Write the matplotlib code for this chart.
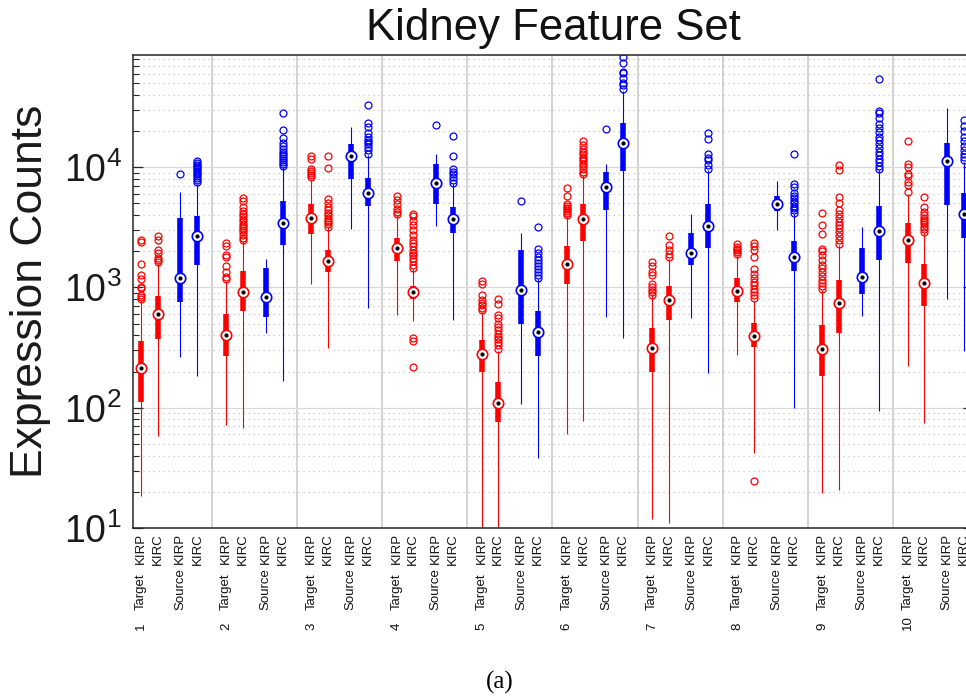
import matplotlib
matplotlib.use("Agg")
import matplotlib.pyplot as plt
import matplotlib.transforms as mtransforms
import numpy as np

plt.rcParams["font.family"] = ["Liberation Sans", "DejaVu Sans"]

GROUPS = ["1", "2", "3", "4", "5", "6", "7", "8", "9", "10"]
DOMAINS = ["Target", "", "Source", ""]
CANCERS = ["KIRP", "KIRC", "KIRP", "KIRC"]

# five-number summaries, four boxes per feature group:
# Target KIRP, Target KIRC, Source KIRP, Source KIRC
whis_lo = [
    18.5, 58, 262, 185,
    72, 68, 416, 168,
    1070, 312, 3090, 680,
    590, 524, 3270, 540,
    8, 8, 107, 38.5,
    60, 78, 566, 381,
    11.8, 10.9, 555, 193,
    276, 42, 2990, 99,
    19.7, 20.6, 584, 94,
    224, 74, 805, 299,
]
q1 = [
    111, 373, 755, 1525,
    268, 643, 573, 2240,
    2800, 1340, 7940, 4760,
    1650, 805, 4980, 2860,
    200, 76, 498, 271,
    1074, 2420, 4440, 9310,
    197, 538, 1545, 2130,
    764, 322, 4325, 1370,
    182, 416, 885, 1680,
    1600, 708, 4890, 2575,
]
medians = [
    213, 607, 1197, 2660,
    403, 920, 830, 3460,
    3780, 1656, 12420, 6150,
    2127, 914, 7450, 3690,
    280, 110, 957, 424,
    1565, 3710, 6850, 15950,
    312, 789, 1930, 3240,
    938, 396, 4920, 1790,
    308, 740, 1218, 2930,
    2465, 1086, 11220, 4110,
]
q3 = [
    362, 853, 3810, 3930,
    604, 1360, 1460, 5250,
    4920, 2060, 15550, 8150,
    2594, 1033, 10590, 4670,
    366, 165, 2033, 643,
    2210, 4920, 9040, 23100,
    461, 1019, 2836, 4980,
    1205, 508, 5730, 2430,
    492, 1159, 2142, 4800,
    3433, 1574, 15950, 6100,
]
whis_hi = [
    780, 1600, 6230, 7310,
    1140, 2450, 1720, 10000,
    7790, 3180, 21400, 12700,
    3980, 1430, 12760, 7200,
    622, 299, 2856, 1180,
    3900, 8580, 10730, 43000,
    858, 1734, 4110, 9440,
    1850, 779, 7690, 4050,
    944, 2239, 3184, 9440,
    6000, 2836, 31200, 11060,
]
fliers = [
    [800, 830, 860, 990, 1010, 1180, 1260, 1580, 2400, 2500],
    [1620, 1700, 1750, 1950, 2050, 2500, 2700],
    [8850],
    [7600, 7900, 8200, 8500, 8800, 9000, 9300, 9600, 9900, 10200, 10500, 10800, 11200],
    [1180, 1220, 1340, 1520, 1790, 1850, 2200, 2340],
    [2500, 2600, 2750, 2900, 3000, 3100, 3250, 3400, 3550, 3700, 3900, 4100, 4300, 4700, 5200, 5500],
    [],
    [10300, 10700, 11100, 11500, 12000, 12500, 13000, 13500, 14200, 15000, 16000, 17500, 20300, 28000],
    [8300, 8600, 8900, 9300, 9700, 11800, 12300],
    [3200, 3350, 3500, 3650, 3800, 4000, 4200, 4400, 4700, 5000, 5400, 9900, 12500],
    [],
    [13000, 13900, 14800, 15700, 16200, 16800, 17700, 19300, 21700, 23400, 32800],
    [4110, 4240, 4530, 4980, 5310, 5770],
    [220, 361, 381, 1450, 1550, 1650, 1750, 1850, 1950, 2050, 2200, 2350, 2500, 2750, 3000, 3300, 3600, 3900, 4100],
    [22500],
    [7450, 7790, 8300, 8750, 9140, 9750, 12350, 18100],
    [650, 680, 710, 740, 790, 870, 1070, 1130],
    [310, 330, 350, 370, 390, 410, 440, 470, 500, 560, 590, 730, 800],
    [5250],
    [1200, 1280, 1350, 1430, 1500, 1600, 1700, 1800, 1950, 2100, 3200],
    [4000, 4150, 4300, 4450, 4600, 4750, 4950, 5800, 6700],
    [8700, 9200, 9700, 10200, 10700, 11200, 11700, 12200, 12800, 13500, 14300, 15200, 16500],
    [20800],
    [44400, 48200, 49800, 54800, 60400, 62300, 74000, 83000, 92000],
    [870, 910, 960, 1010, 1060, 1260, 1340, 1520, 1620],
    [1790, 1910, 2030, 2240, 2680],
    [],
    [9750, 10400, 11430, 12040, 12830, 17000, 19300],
    [1900, 1960, 2030, 2100, 2170, 2300],
    [24.6, 810, 860, 920, 980, 1050, 1120, 1200, 1300, 1420, 1800, 2030, 2200, 2340],
    [],
    [4150, 4400, 4600, 4800, 5000, 5200, 5500, 5800, 6100, 6900, 7200, 13000],
    [980, 1030, 1090, 1160, 1250, 1350, 1450, 1550, 1700, 1850, 2000, 2100, 2800, 3300, 4200],
    [2300, 2500, 2700, 2900, 3100, 3300, 3500, 3750, 4100, 4400, 5000, 5600, 9400, 10500],
    [],
    [9700, 10300, 11000, 11800, 12600, 13500, 14500, 15500, 16800, 18000, 19500, 21000, 23000, 25500, 28000, 29500, 54000],
    [6230, 7080, 7550, 8410, 8860, 10060, 10730, 16560],
    [2900, 3050, 3200, 3350, 3500, 3650, 3800, 4000, 4250, 4700, 5700],
    [],
    [11500, 12200, 13000, 14000, 15000, 16500, 18000, 20000, 22000, 24500],
]

# box layout inside each group (factor gap between target and source)
offsets = np.array([0.0, 0.97, 2.3, 3.3])
group_step = 4.98
positions = np.concatenate([g * group_step + offsets for g in range(len(GROUPS))])
colors = ["#ff0000", "#ff0000", "#0000ff", "#0000ff"] * len(GROUPS)

fig = plt.figure(figsize=(9.66, 6.96), dpi=100)
ax = fig.add_axes([133 / 966, 1 - 528 / 696, 840 / 966, 473 / 696])
ax.set_yscale("log")
ax.set_ylim(10, 10 ** 4.933)
ax.set_xlim(-0.468, 48.65)

# grid: solid decades, dotted minors, group separators
ax.yaxis.grid(True, which="major", color="#d9d9d9", linewidth=0.9, zorder=0)
ax.yaxis.grid(True, which="minor", color="#c4c4c4", linewidth=0.9,
              linestyle=(0, (1, 3)), zorder=0)
for g in range(len(GROUPS) - 1):
    sep = (positions[4 * g + 3] + positions[4 * g + 4]) / 2
    ax.axvline(sep, color="#c8c8c8", linewidth=1.1, zorder=0)
ax.set_axisbelow(True)

# whiskers, boxes, outliers, medians
ax.vlines(positions, whis_lo, whis_hi, colors=colors, linewidth=0.8, zorder=2)
ax.vlines(positions, q1, q3, colors=colors, linewidth=4.0, capstyle="butt", zorder=3)
for x, ys, c in zip(positions, fliers, colors):
    if ys:
        ax.plot([x] * len(ys), ys, "o", mfc="none", mec=c, ms=5, mew=0.9, zorder=3)
for x, m, c in zip(positions, medians, colors):
    ax.plot(x, m, "o", mfc="white", mec=c, ms=7.5, mew=1.2, zorder=4)
    ax.plot(x, m, "o", color="black", ms=2, zorder=5)

# axes frame and ticks
for side in ["top", "left", "bottom", "right"]:
    ax.spines[side].set_color("#262626")
    ax.spines[side].set_linewidth(1.1)
ax.set_xticks([])
ax.tick_params(axis="y", which="both", direction="in", left=True, right=True,
               colors="#262626", labelsize=27, pad=8)
ax.tick_params(axis="y", which="major", length=7, width=0.9)
ax.tick_params(axis="y", which="minor", length=4, width=0.8)
for lab in ax.get_yticklabels():
    lab.set_color("#1a1a1a")

# three-row category labels under each box
trans = mtransforms.blended_transform_factory(ax.transData, ax.transAxes)
for i, x in enumerate(positions):
    ax.text(x, -0.011, CANCERS[i % 4], transform=trans, rotation=90,
            rotation_mode="anchor", ha="right", va="center", fontsize=9.5,
            color="#111111")
    if DOMAINS[i % 4]:
        ax.text(x, -0.173, DOMAINS[i % 4], transform=trans, rotation=90,
                rotation_mode="anchor", ha="left", va="center", fontsize=9.5,
                color="#111111")
    if i % 4 == 0:
        ax.text(x, -0.215, GROUPS[i // 4], transform=trans, rotation=90,
                rotation_mode="anchor", ha="left", va="center", fontsize=9.5,
                color="#111111")

ax.set_title("Kidney Feature Set", fontsize=31.5, pad=11, color="#111111")
ax.text(-0.1226, 0.5, "Expression Counts", transform=ax.transAxes, rotation=90,
        ha="center", va="center", fontsize=32, color="#1a1a1a")

fig.text(500 / 966, 1 - 682 / 696, "(a)", family="Liberation Serif", fontsize=18,
         ha="center", va="center")

fig.savefig("out.png", dpi=100)
